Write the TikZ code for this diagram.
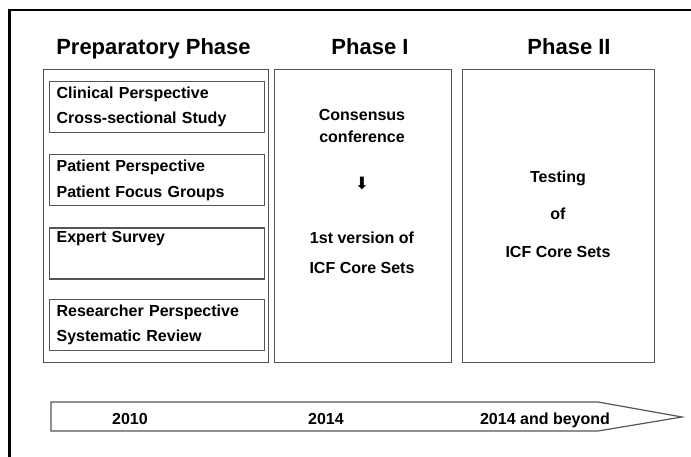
\documentclass[tikz,border=0pt]{standalone}
\usepackage{fontspec}
\setmainfont{Liberation Sans}
\newfontfamily\arrowfont{DejaVu Sans}
\usepackage{xcolor}
\usetikzlibrary{positioning}

\definecolor{framegray}{HTML}{555555}

\begin{document}
\begin{tikzpicture}[x=1pt, y=-1pt,
    phase/.style={rectangle, draw=framegray, line width=1.2pt, anchor=north west,
                  minimum height=293pt, inner sep=0pt},
    item/.style={rectangle, draw=framegray, line width=1.2pt, anchor=north west,
                 minimum width=215pt, minimum height=51pt, text width=201pt, inner xsep=7pt,
                 align=left, font=\bfseries\fontsize{16}{25.5}\selectfont},
    head/.style={anchor=base, font=\bfseries\fontsize{22}{24}\selectfont},
    txt/.style={align=center, font=\bfseries\fontsize{16}{22}\selectfont},
    year/.style={anchor=base, font=\bfseries\fontsize{16}{18}\selectfont}
  ]
  \useasboundingbox (0,0) rectangle (691,457);
  % outer frame, only top and left edge show
  \draw[line width=2.2pt] (9.5,457) -- (9.5,10) -- (691,10);

  % three phase columns
  \node[phase, minimum width=225pt] (prep) at (43,69) {};
  \node[phase, minimum width=177pt] (ph1)  at (274,69) {};
  \node[phase, minimum width=192pt] (ph2)  at (462,69) {};

  \node[head] (hprep) at (153.5,55) {Preparatory Phase};
  \node[head] (hph1)  at (370,55)   {Phase I};
  \node[head] (hph2)  at (569,55)   {Phase II};

  % preparatory studies
  \node[item] (clin) at (49,81) {Clinical Perspective\\Cross-sectional Study};
  \node[item, below=21pt of clin.south west, anchor=north west] (pat) {Patient Perspective\\Patient Focus Groups};
  \node[item, below=21pt of pat.south west, anchor=north west]  (exp) {Expert Survey\\\strut};
  \node[item, below=19pt of exp.south west, anchor=north west]  (res) {Researcher Perspective\\Systematic Review};

  % phase I and II contents
  \node[txt] (cons) at (362,126) {Consensus\\conference};
  \node[txt, font=\arrowfont\fontsize{17}{19}\selectfont] (down) at (362,184) {⬇};
  \node[txt, font=\bfseries\fontsize{16}{30}\selectfont] (first) at (362,253) {1st version of\\ICF Core Sets};
  \node[txt, font=\bfseries\fontsize{16}{37.5}\selectfont] (test) at (558,214) {Testing\\of\\ICF Core Sets};

  % time line
  \draw[draw=framegray, line width=1.2pt, fill=white]
    (51,402) -- (598,402) -- (682,417) -- (598,431) -- (51,431) -- cycle;
  \node[year] (y1) at (130,424) {2010};
  \node[year] (y2) at (326,424) {2014};
  \node[year] (y3) at (545,424) {2014 and beyond};
\end{tikzpicture}
\end{document}
